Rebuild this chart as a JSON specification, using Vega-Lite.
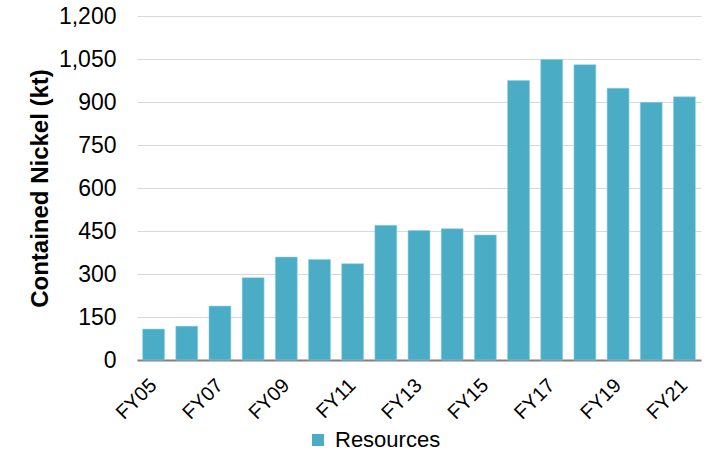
{
  "$schema": "https://vega.github.io/schema/vega-lite/v6.json",
  "autosize": {"type": "none"},
  "width": 564,
  "height": 344,
  "padding": {"left": 137, "top": 16, "right": 17, "bottom": 92},
  "background": "white",
  "config": {"view": {"stroke": null}, "font": "Liberation Sans"},
  "data": {
    "values": [
      {"year": "FY05", "series": "Resources", "value": 108},
      {"year": "FY06", "series": "Resources", "value": 118},
      {"year": "FY07", "series": "Resources", "value": 188},
      {"year": "FY08", "series": "Resources", "value": 287},
      {"year": "FY09", "series": "Resources", "value": 359},
      {"year": "FY10", "series": "Resources", "value": 351},
      {"year": "FY11", "series": "Resources", "value": 336},
      {"year": "FY12", "series": "Resources", "value": 470},
      {"year": "FY13", "series": "Resources", "value": 452},
      {"year": "FY14", "series": "Resources", "value": 458},
      {"year": "FY15", "series": "Resources", "value": 436},
      {"year": "FY16", "series": "Resources", "value": 975},
      {"year": "FY17", "series": "Resources", "value": 1048},
      {"year": "FY18", "series": "Resources", "value": 1030},
      {"year": "FY19", "series": "Resources", "value": 948},
      {"year": "FY20", "series": "Resources", "value": 899},
      {"year": "FY21", "series": "Resources", "value": 918}
    ]
  },
  "mark": {"type": "bar", "stroke": "#8fd0e0", "strokeWidth": 0.6},
  "encoding": {
    "x": {
      "field": "year",
      "type": "nominal",
      "sort": null,
      "scale": {"paddingInner": 0.34, "paddingOuter": 0.17},
      "axis": {
        "title": null,
        "values": ["FY05", "FY07", "FY09", "FY11", "FY13", "FY15", "FY17", "FY19", "FY21"],
        "labelAngle": -45,
        "labelAlign": "right",
        "labelBaseline": "middle",
        "labelFontSize": 20,
        "labelColor": "#000000",
        "labelPadding": 22,
        "ticks": false,
        "domainColor": "#808080",
        "domainWidth": 2.2,
        "grid": false
      }
    },
    "y": {
      "field": "value",
      "type": "quantitative",
      "scale": {"domain": [0, 1200], "nice": false},
      "axis": {
        "title": "Contained Nickel (kt)",
        "titleFontSize": 24,
        "titleFontWeight": "bold",
        "titleColor": "#000000",
        "titlePadding": 6,
        "values": [0, 150, 300, 450, 600, 750, 900, 1050, 1200],
        "format": ",d",
        "labelFontSize": 23,
        "labelColor": "#000000",
        "labelPadding": 21,
        "ticks": false,
        "domain": false,
        "gridColor": "#d9d9d9",
        "gridWidth": 1.2
      }
    },
    "color": {
      "field": "series",
      "type": "nominal",
      "scale": {"range": ["#4BACC6"]},
      "legend": {
        "title": null,
        "orient": "none",
        "legendX": 170,
        "legendY": 413,
        "symbolType": "square",
        "symbolSize": 144,
        "symbolStrokeWidth": 0,
        "labelFontSize": 22,
        "labelColor": "#000000",
        "labelOffset": 6
      }
    }
  }
}
